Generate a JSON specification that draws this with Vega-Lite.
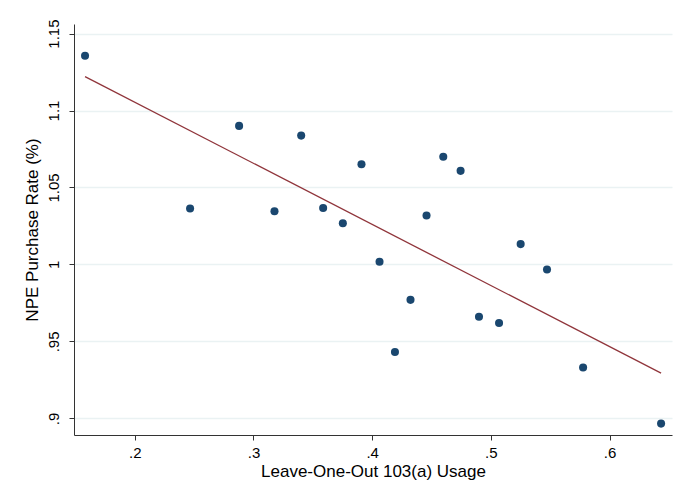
{
  "$schema": "https://vega.github.io/schema/vega-lite/v6.json",
  "width": 598,
  "height": 411,
  "autosize": {"type": "none"},
  "padding": {"left": 74, "top": 24, "right": 13, "bottom": 65},
  "background": "white",
  "config": {
    "view": {"stroke": null},
    "font": "Liberation Sans",
    "axis": {
      "labelFont": "Liberation Sans",
      "titleFont": "Liberation Sans",
      "labelFontSize": 15,
      "titleFontSize": 17,
      "titleFontWeight": "normal",
      "labelColor": "#000",
      "titleColor": "#000",
      "domainColor": "#333",
      "tickColor": "#333",
      "domainWidth": 1,
      "tickWidth": 1,
      "tickSize": 5
    }
  },
  "datasets": {
    "bins": [
      {"usage": 0.1581, "rate": 1.1356},
      {"usage": 0.2466, "rate": 1.0363},
      {"usage": 0.2879, "rate": 1.0900},
      {"usage": 0.3177, "rate": 1.0346},
      {"usage": 0.3402, "rate": 1.0837},
      {"usage": 0.3587, "rate": 1.0367},
      {"usage": 0.3753, "rate": 1.0268},
      {"usage": 0.3910, "rate": 1.0651},
      {"usage": 0.4062, "rate": 1.0017},
      {"usage": 0.4192, "rate": 0.9431},
      {"usage": 0.4323, "rate": 0.9770},
      {"usage": 0.4458, "rate": 1.0318},
      {"usage": 0.4599, "rate": 1.0700},
      {"usage": 0.4745, "rate": 1.0608},
      {"usage": 0.4900, "rate": 0.9660},
      {"usage": 0.5069, "rate": 0.9619},
      {"usage": 0.5251, "rate": 1.0132},
      {"usage": 0.5473, "rate": 0.9967},
      {"usage": 0.5777, "rate": 0.9331},
      {"usage": 0.6434, "rate": 0.8966}
    ],
    "fit": [
      {"usage": 0.1581, "fitted": 1.1220},
      {"usage": 0.6434, "fitted": 0.9294}
    ]
  },
  "layer": [
    {
      "data": {"name": "fit"},
      "mark": {"type": "line", "color": "#90353b", "strokeWidth": 1.3},
      "encoding": {
        "x": {"field": "usage", "type": "quantitative",
              "scale": {"domain": [0.1488, 0.6526], "nice": false, "zero": false},
              "axis": {"title": "Leave-One-Out 103(a) Usage", "values": [0.2, 0.3, 0.4, 0.5, 0.6],
                       "labelExpr": "replace(format(datum.value, '.1~f'), '0.', '.')",
                       "grid": false, "labelPadding": 5, "titlePadding": 3}},
        "y": {"field": "fitted", "type": "quantitative",
              "scale": {"domain": [0.8892, 1.1562], "nice": false, "zero": false},
              "axis": {"title": "NPE Purchase Rate (%)", "values": [0.9, 0.95, 1, 1.05, 1.1, 1.15],
                       "labelExpr": "replace(format(datum.value, '.2~f'), '0.', '.')",
                       "labelAngle": -90, "labelAlign": "center", "labelBaseline": "bottom",
                       "labelPadding": 8, "titlePadding": 5,
                       "grid": true, "gridColor": "#eaf2f3", "gridWidth": 1.5}}
      }
    },
    {
      "data": {"name": "bins"},
      "mark": {"type": "circle", "color": "#1a476f", "opacity": 1, "size": 65},
      "encoding": {
        "x": {"field": "usage", "type": "quantitative"},
        "y": {"field": "rate", "type": "quantitative"}
      }
    }
  ]
}
